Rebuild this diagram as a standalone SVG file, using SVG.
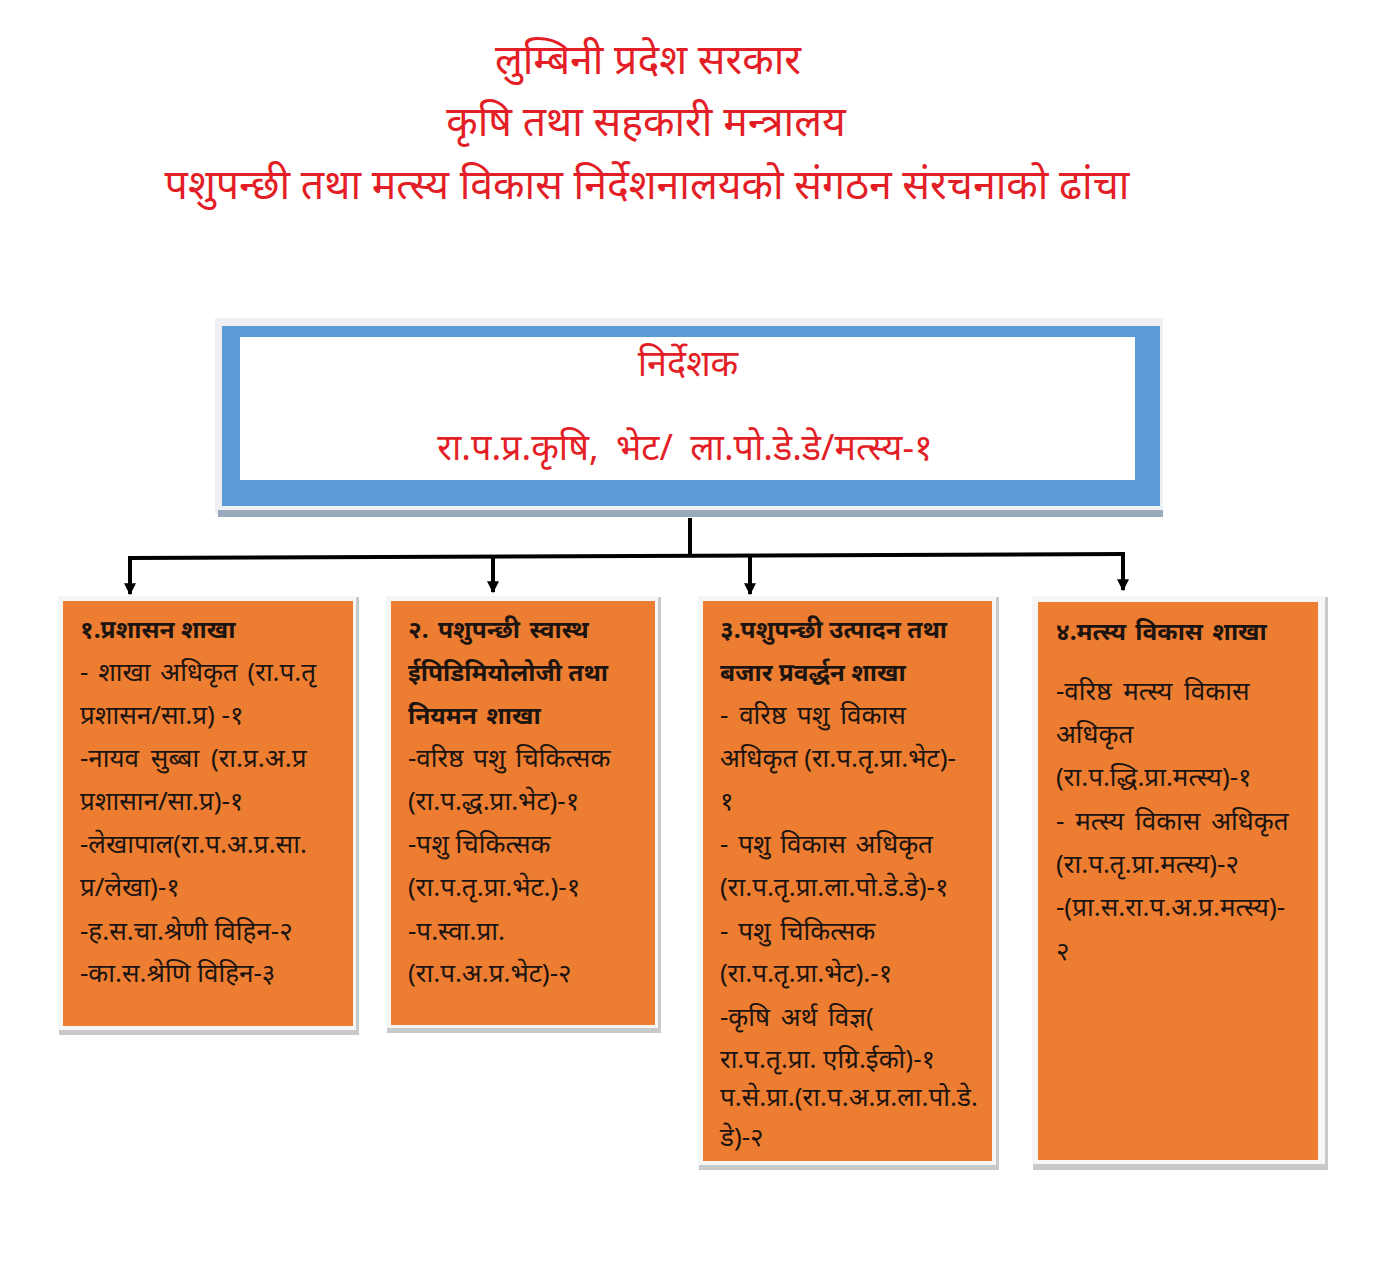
<svg xmlns="http://www.w3.org/2000/svg" width="1384" height="1272" viewBox="0 0 1384 1272">
<defs>
<style>
.title{font-family:"Noto Sans","DejaVu Sans",sans-serif;font-size:41px;fill:#e31e26;text-anchor:middle}
.head{font-family:"Noto Sans","DejaVu Sans",sans-serif;font-size:36px;fill:#e31e26;text-anchor:middle}
.t{font-family:"Noto Sans","DejaVu Sans",sans-serif;font-size:26px;fill:#1c1410}
.b{font-weight:bold;font-size:24.5px}
.box{fill:#ed7d31}
.conn{stroke:#000;stroke-width:4;fill:none}
</style>
<marker id="arr" viewBox="0 0 10 10" refX="9" refY="5" markerWidth="3" markerHeight="3" orient="auto" markerUnits="strokeWidth">
<path d="M0,0 L10,5 L0,10 Z" fill="#000"/>
</marker>
</defs>
<rect width="1384" height="1272" fill="#fff"/>
<g id="title">
<text class="title" x="648" y="74">लुम्बिनी प्रदेश सरकार</text>
<text class="title" x="646" y="136">कृषि तथा सहकारी मन्त्रालय</text>
<text class="title" x="647" y="199">पशुपन्छी तथा मत्स्य विकास निर्देशनालयको संगठन संरचनाको ढांचा</text>
</g>
<g id="director">
<rect x="215" y="318" width="948" height="196" fill="#eef0f3"/>
<rect x="218" y="510" width="945" height="7" fill="#9aaabd"/>
<rect x="222" y="326" width="938" height="180" fill="#5b9bd5"/>
<rect x="240" y="337" width="895" height="143" fill="#fff"/>
<text class="head" x="688" y="376">निर्देशक</text>
<text class="head" x="685" y="460" word-spacing="8">रा.प.प्र.कृषि, भेट/  ला.पो.डे.डे/मत्स्य-१</text>
</g>
<g id="connectors">
<line class="conn" x1="690" y1="518" x2="690" y2="556"/>
<path class="conn" d="M128,558 L1125,554"/>
<line class="conn" x1="130" y1="557" x2="130" y2="594" marker-end="url(#arr)"/>
<line class="conn" x1="493" y1="556" x2="493" y2="592" marker-end="url(#arr)"/>
<line class="conn" x1="750" y1="556" x2="750" y2="594" marker-end="url(#arr)"/>
<line class="conn" x1="1123" y1="555" x2="1123" y2="590" marker-end="url(#arr)"/>
</g>
<g id="branch1">
<rect x="59" y="597" width="300" height="438" fill="#c9c9c9"/>
<rect x="58" y="596" width="298" height="434" fill="#f6f6f6"/>
<rect x="63" y="601" width="290" height="425" class="box"/>
<text class="t b" x="80" y="638">१.प्रशासन शाखा</text>
<text class="t" x="80" y="681" word-spacing="3">- शाखा अधिकृत (रा.प.तृ</text>
<text class="t" x="80" y="724">प्रशासन/सा.प्र) -१</text>
<text class="t" x="80" y="767" word-spacing="5">-नायव सुब्बा (रा.प्र.अ.प्र</text>
<text class="t" x="80" y="810">प्रशासान/सा.प्र)-१</text>
<text class="t" x="80" y="853">-लेखापाल(रा.प.अ.प्र.सा.</text>
<text class="t" x="80" y="896">प्र/लेखा)-१</text>
<text class="t" x="80" y="940">-ह.स.चा.श्रेणी विहिन-२</text>
<text class="t" x="80" y="982">-का.स.श्रेणि विहिन-३</text>
</g>
<g id="branch2">
<rect x="387" y="597" width="274" height="436" fill="#c9c9c9"/>
<rect x="386" y="596" width="272" height="432" fill="#f6f6f6"/>
<rect x="391" y="601" width="264" height="424" class="box"/>
<text class="t b" x="408" y="638" word-spacing="3">२. पशुपन्छी स्वास्थ</text>
<text class="t b" x="408" y="681">ईपिडिमियोलोजी तथा</text>
<text class="t b" x="408" y="724" word-spacing="3">नियमन शाखा</text>
<text class="t" x="408" y="767" word-spacing="3">-वरिष्ठ पशु चिकित्सक</text>
<text class="t" x="408" y="810">(रा.प.द्ध.प्रा.भेट)-१</text>
<text class="t" x="408" y="853">-पशु चिकित्सक</text>
<text class="t" x="408" y="896">(रा.प.तृ.प्रा.भेट.)-१</text>
<text class="t" x="408" y="940">-प.स्वा.प्रा.</text>
<text class="t" x="408" y="982">(रा.प.अ.प्र.भेट)-२</text>
</g>
<g id="branch3">
<rect x="699" y="597" width="300" height="573" fill="#c9c9c9"/>
<rect x="698" y="596" width="298" height="569" fill="#f6f6f6"/>
<rect x="703" y="601" width="289" height="560" class="box"/>
<text class="t b" x="720" y="638">३.पशुपन्छी उत्पादन तथा</text>
<text class="t b" x="720" y="681">बजार प्रवर्द्धन शाखा</text>
<text class="t" x="720" y="724" word-spacing="4">- वरिष्ठ पशु विकास</text>
<text class="t" x="720" y="767">अधिकृत (रा.प.तृ.प्रा.भेट)-</text>
<text class="t" x="720" y="810">१</text>
<text class="t" x="720" y="853" word-spacing="3">- पशु विकास अधिकृत</text>
<text class="t" x="720" y="896">(रा.प.तृ.प्रा.ला.पो.डे.डे)-१</text>
<text class="t" x="720" y="940" word-spacing="3">- पशु चिकित्सक</text>
<text class="t" x="720" y="982">(रा.प.तृ.प्रा.भेट).-१</text>
<text class="t" x="720" y="1026" word-spacing="4">-कृषि अर्थ विज्ञ(</text>
<text class="t" x="720" y="1068">रा.प.तृ.प्रा. एग्रि.ईको)-१</text>
<text class="t" x="720" y="1106">प.से.प्रा.(रा.प.अ.प्र.ला.पो.डे.</text>
<text class="t" x="720" y="1146">डे)-२</text>
</g>
<g id="branch4">
<rect x="1033" y="597" width="295" height="573" fill="#c9c9c9"/>
<rect x="1032" y="596" width="293" height="568" fill="#f6f6f6"/>
<rect x="1038" y="602" width="280" height="558" class="box"/>
<text class="t b" x="1056" y="640" word-spacing="3">४.मत्स्य विकास शाखा</text>
<text class="t" x="1056" y="700" word-spacing="5">-वरिष्ठ मत्स्य विकास</text>
<text class="t" x="1056" y="743">अधिकृत</text>
<text class="t" x="1056" y="786">(रा.प.द्धि.प्रा.मत्स्य)-१</text>
<text class="t" x="1056" y="830" word-spacing="4">- मत्स्य विकास अधिकृत</text>
<text class="t" x="1056" y="873">(रा.प.तृ.प्रा.मत्स्य)-२</text>
<text class="t" x="1056" y="916">-(प्रा.स.रा.प.अ.प्र.मत्स्य)-</text>
<text class="t" x="1056" y="960">२</text>
</g>
</svg>
